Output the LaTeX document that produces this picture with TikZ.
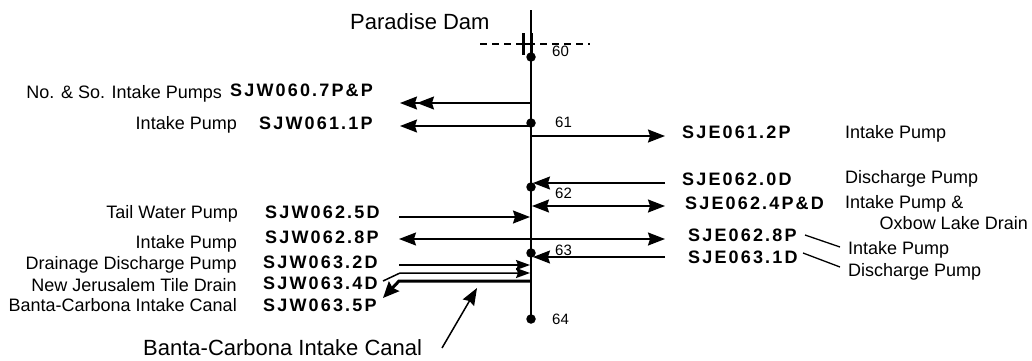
\documentclass[tikz,border=0pt]{standalone}
\usepackage{fontspec}
\setmainfont{Liberation Sans}
\newfontfamily\codefont[LetterSpace=12]{Liberation Sans}
\usetikzlibrary{arrows.meta}
\begin{document}
\begin{tikzpicture}[x=1pt,y=-1pt,
  lbl/.style={font=\fontsize{18}{20}\selectfont, inner sep=0pt},
  code/.style={font=\codefont\bfseries\fontsize{18}{20}\selectfont, inner sep=0pt},
  num/.style={font=\fontsize{15}{17}\selectfont, inner sep=0pt},
  big/.style={font=\fontsize{22}{24}\selectfont, inner sep=0pt},
  conn/.style={line width=1.5pt},
  thick conn/.style={line width=3pt},
  dot/.style={circle, fill=black, inner sep=0pt, minimum size=9.5pt},
  >={Stealth[length=17pt,width=13pt,inset=2pt]},
  small tip/.style={>={Stealth[length=14pt,width=10pt,inset=2pt]}}
]
\useasboundingbox (0,0) rectangle (1032,360);

% title and dam
\node[big, anchor=base west] (title) at (350,29) {Paradise Dam};
\coordinate (top) at (531,10);
\coordinate (dashL) at (480,44);
\coordinate (dashR) at (590,44);
\draw[line width=1.2pt, dash pattern=on 7pt off 5pt] (dashL) -- (dashR);
\coordinate (damT) at (523.5,33);
\coordinate (damB) at (523.5,55);
\coordinate (damRT) at (531,33);
\coordinate (damRB) at (531,55);
\coordinate (damCL) at (523.5,44);
\coordinate (damCR) at (531,44);
\draw[line width=3pt] (damT) -- (damB);
\draw[line width=3pt] (damRT) -- (damRB);
\draw[line width=2pt] (damCL) -- (damCR);

% river mile points
\node[dot] (d60) at (531,57) {};
\node[dot] (d61) at (531,123) {};
\node[dot] (d62) at (531,187) {};
\node[dot] (d63) at (531,253) {};
\node[dot] (d64) at (531,319) {};
\draw[line width=1.8pt] (top) -- (d60.center) -- (d61.center) -- (d62.center) -- (d63.center) -- (d64.center);

\node[num, anchor=base west] (n60) at (552,56.4) {60};
\node[num, anchor=base west] (n61) at (555,127.4) {61};
\node[num, anchor=base west] (n62) at (555,198.4) {62};
\node[num, anchor=base west] (n63) at (555,255.4) {63};
\node[num, anchor=base west] (n64) at (552,324.4) {64};

% left side labels
\node[lbl, anchor=base east] (l1) at (222,98.5) {No. \& So. Intake Pumps};
\node[code, anchor=base west] (c1) at (230,96.5) {SJW060.7P\&P};
\node[lbl, anchor=base east] (l2) at (237,129.5) {Intake Pump};
\node[code, anchor=base west] (c2) at (259,129.5) {SJW061.1P};
\node[lbl, anchor=base east] (l6) at (238,218.5) {Tail Water Pump};
\node[code, anchor=base west] (c6) at (265,218.5) {SJW062.5D};
\node[lbl, anchor=base east] (l7) at (237,248.5) {Intake Pump};
\node[code, anchor=base west] (c7) at (265,243.5) {SJW062.8P};
\node[lbl, anchor=base east] (l9) at (237,269.5) {Drainage Discharge Pump};
\node[code, anchor=base west] (c9) at (263,268.5) {SJW063.2D};
\node[lbl, anchor=base east] (l10) at (237,291.5) {New Jerusalem Tile Drain};
\node[code, anchor=base west] (c10) at (263,289.5) {SJW063.4D};
\node[lbl, anchor=base east] (l11) at (237,311.5) {Banta-Carbona Intake Canal};
\node[code, anchor=base west] (c11) at (263,311.5) {SJW063.5P};

% right side labels
\node[code, anchor=base west] (c3) at (682,138.5) {SJE061.2P};
\node[lbl, anchor=base west] (r3) at (845,138.5) {Intake Pump};
\node[code, anchor=base west] (c4) at (682,185.5) {SJE062.0D};
\node[lbl, anchor=base west] (r4) at (845,183.5) {Discharge Pump};
\node[code, anchor=base west] (c5) at (685,209.5) {SJE062.4P\&D};
\node[lbl, anchor=base west] (r5) at (845,208.5) {Intake Pump \&};
\node[lbl, anchor=base east] (r5b) at (1028,229.5) {Oxbow Lake Drain};
\node[code, anchor=base west] (c7r) at (688,241.5) {SJE062.8P};
\node[lbl, anchor=base west] (r7) at (848,254.5) {Intake Pump};
\node[code, anchor=base west] (c8) at (688,263.5) {SJE063.1D};
\node[lbl, anchor=base west] (r8) at (848,276.5) {Discharge Pump};

% leaders
\coordinate (k7a) at (805,235);
\coordinate (k7b) at (840,247);
\coordinate (k8a) at (803,253);
\coordinate (k8b) at (840,267);
\draw[line width=1.3pt] (k7a) -- (k7b);
\draw[line width=1.3pt] (k8a) -- (k8b);

% connectors
\coordinate (a1s) at (531,103); \coordinate (a1e) at (400,103);
\draw[conn,->>] (a1s) -- (a1e);
\coordinate (a2s) at (531,126); \coordinate (a2e) at (400,126);
\draw[conn,->] (a2s) -- (a2e);
\coordinate (a3s) at (531,136); \coordinate (a3e) at (665,136);
\draw[conn,->] (a3s) -- (a3e);
\coordinate (a4s) at (665,183); \coordinate (a4e) at (533,183);
\draw[conn,->] (a4s) -- (a4e);
\coordinate (a5s) at (532,206); \coordinate (a5e) at (665,206);
\draw[conn,<->] (a5s) -- (a5e);
\coordinate (a6s) at (399,217); \coordinate (a6e) at (530,217);
\draw[conn,->] (a6s) -- (a6e);
\coordinate (a7s) at (399,239); \coordinate (a7e) at (665,239);
\draw[conn,<->] (a7s) -- (a7e);
\coordinate (a8s) at (665,257); \coordinate (a8e) at (533,257);
\draw[conn,->] (a8s) -- (a8e);
\coordinate (a9s) at (399,265); \coordinate (a9e) at (530,265);
\draw[conn,small tip,->] (a9s) -- (a9e);
\coordinate (a10s) at (383,281); \coordinate (a10m) at (400,273); \coordinate (a10e) at (530,273);
\draw[conn,small tip,->] (a10s) -- (a10m) -- (a10e);
\coordinate (a11s) at (531,281); \coordinate (a11m) at (399,281); \coordinate (a11e) at (383,298);
\draw[thick conn,->,>={Stealth[length=16pt,width=14pt,inset=2pt]}] (a11s) -- (a11m) -- (a11e);

% bottom label
\node[big, anchor=base west] (canal) at (143,355) {Banta-Carbona Intake Canal};
\coordinate (bs) at (442,348); \coordinate (be) at (477,288);
\draw[conn,->] (bs) -- (be);
\end{tikzpicture}
\end{document}
